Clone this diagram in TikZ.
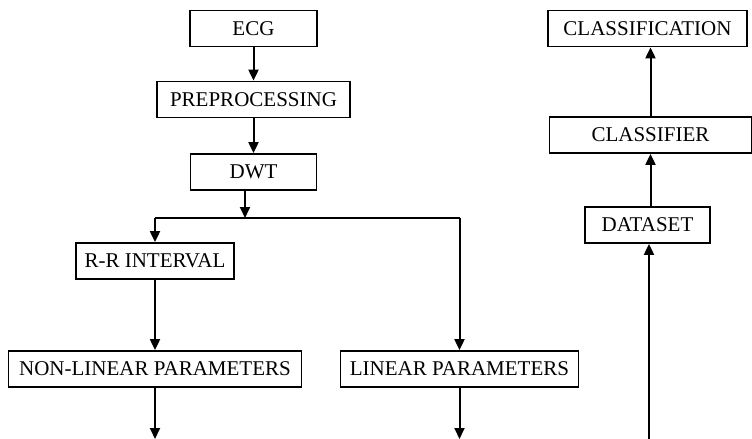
\documentclass[tikz,border=0pt]{standalone}
\usepackage{fontspec}
\setmainfont{Liberation Serif}
\usetikzlibrary{arrows.meta,positioning}
\tikzset{
    block/.style={draw, line width=0.9pt, inner sep=0pt, minimum height=18pt, font=\fontsize{10.5}{12}\selectfont}, % the boxes
    flow/.style={line width=1pt, -{Triangle[length=5.5pt,width=5pt]}}, % the arrows
}

\begin{document}
\begin{tikzpicture}[x=0.5pt,y=-0.5pt]
  \useasboundingbox (0,0) rectangle (752,439);

  % left column
  \node[block, minimum width=63.5pt] (ecg) at (253.5,28.5) {ECG};
  \node[block, minimum width=96.5pt] (prep) at (253.5,99.5) {PREPROCESSING};
  \node[block, minimum width=63pt] (dwt) at (253.5,172) {DWT};
  \node[block, minimum width=79pt] (rr) at (155,261) {R-R INTERVAL};
  \node[block, minimum width=146.5pt] (nonlin) at (155,369) {NON-LINEAR PARAMETERS};
  \node[block, minimum width=119pt] (lin) at (459.5,369) {LINEAR PARAMETERS};

  % right column
  \node[block, minimum width=99.5pt] (clsn) at (647.5,28.5) {CLASSIFICATION};
  \node[block, minimum width=101pt] (clsr) at (650.5,135) {CLASSIFIER};
  \node[block, minimum width=62.5pt] (data) at (647.5,225) {DATASET};

  % split and free ends
  \coordinate (split) at (245,218);
  \coordinate (splitL) at (155,218);
  \coordinate (splitR) at (459.5,218);
  \coordinate (endL) at (155,439);
  \coordinate (endR) at (459.5,439);
  \coordinate (endD) at (649,439);

  \path[flow]
    (ecg) edge (prep)
    (prep) edge (dwt)
    (dwt.south -| split) edge (split)
    (splitL) edge (rr)
    (splitR) edge (lin)
    (rr) edge (nonlin)
    (nonlin) edge (endL)
    (lin) edge (endR)
    (endD) edge (data.south -| endD)
    (data.north -| clsr) edge (clsr.south)
    (clsr) edge (clsn.south -| clsr);
  \draw[line width=1pt] (splitL) -- (splitR);
\end{tikzpicture}
\end{document}
